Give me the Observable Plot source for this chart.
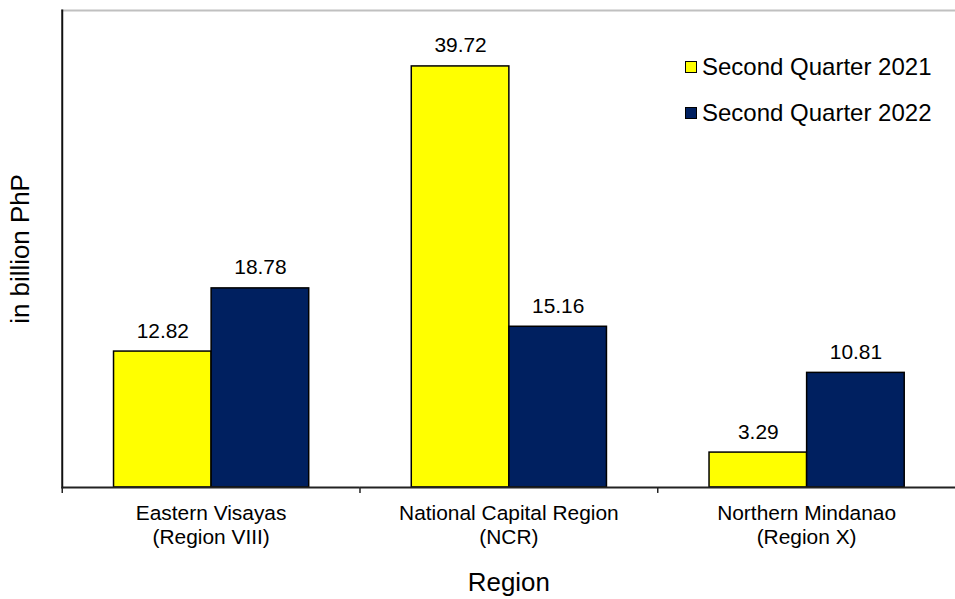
<!DOCTYPE html>
<html>
<head>
<meta charset="utf-8">
<script src="https://cdn.jsdelivr.net/npm/d3@7"></script>
<script src="https://cdn.jsdelivr.net/npm/@observablehq/plot@0.6"></script>
<style>
  html, body { margin: 0; padding: 0; background: #fff; overflow: hidden; }
  #wrap { position: relative; width: 955px; height: 599px; overflow: hidden; font-family: "Liberation Sans", Arial, sans-serif; }
  .legend { position: absolute; left: 685px; top: 51px; }
  .legend .item { display: flex; align-items: center; height: 32px; margin-bottom: 14px; font-size: 24px; color: #000; white-space: nowrap; }
  .legend .swatch { width: 10px; height: 10px; border: 1.5px solid #000; margin-right: 5px; }
</style>
</head>
<body>
<div id="wrap"></div>
<script>
// Regions on the x axis (display text uses a line break)
const regions = ["Eastern Visayas", "National Capital Region", "Northern Mindanao"];
const regionLabels = ["Eastern Visayas\n(Region VIII)", "National Capital Region\n(NCR)", "Northern Mindanao\n(Region X)"];
// Series
const series = ["Second Quarter 2021", "Second Quarter 2022"];
const seriesColors = ["#ffff00", "#002060"];
// Values in billion PhP, one per region
const q2021 = [12.82, 39.72, 3.29];
const q2022 = [18.78, 15.16, 10.81];

const rows = regions.flatMap((r, i) => [
  {region: r, series: series[0], value: q2021[i]},
  {region: r, series: series[1], value: q2022[i]}
]);

const W = 959, marginLeft = 62, marginRight = 0;
const step = (W - marginLeft - marginRight) / regions.length;

const chart = Plot.plot({
  width: W,
  height: 599,
  marginLeft,
  marginRight,
  marginTop: 10,
  marginBottom: 110,
  style: {fontFamily: "'Liberation Sans', Arial, sans-serif", fontSize: "21px", color: "#000", background: "#fff"},
  fx: {domain: regions, padding: 0},
  x: {domain: series, paddingInner: 0, paddingOuter: 0.525, axis: null},
  y: {domain: [0, 45], axis: null},
  color: {domain: series, range: seriesColors},
  marks: [
    // plot-area top border
    Plot.frame({anchor: "top", facet: "super", stroke: "#c0c0c0", strokeWidth: 2}),
    Plot.barY(rows, {fx: "region", x: "series", y: "value", fill: "series", stroke: "#000", strokeWidth: 1.5}),
    Plot.text(rows, {fx: "region", x: "series", y: "value", text: d => d.value.toFixed(2), lineAnchor: "bottom", dy: -14, fontSize: 21, fill: "#000"}),
    // baseline and vertical axis line
    Plot.ruleY([0], {stroke: "#222", strokeWidth: 2}),
    Plot.frame({anchor: "left", facet: "super", stroke: "#111", strokeWidth: 2}),
    // category labels under each group
    Plot.axisFx({anchor: "bottom", tickSize: 0, tickPadding: 16, fontSize: 21, lineHeight: 1.15,
      tickFormat: d => regionLabels[regions.indexOf(d)], label: null}),
    // tick marks at the group boundaries
    Plot.axisFx({anchor: "bottom", tickSize: 6, tickFormat: () => "", dx: -step / 2, stroke: "#222", strokeWidth: 1.5, label: null}),
    // axis titles
    Plot.axisFx({anchor: "bottom", ticks: [], label: "Region", labelAnchor: "center", labelOffset: 104, fontSize: 26}),
    Plot.axisY({anchor: "left", ticks: [], tickSize: 0, label: "in billion PhP", labelAnchor: "center", labelArrow: "none", labelOffset: 52, fontSize: 26})
  ]
});

const wrap = document.getElementById("wrap");
wrap.appendChild(chart);

// legend drawn over the plot area
const legend = document.createElement("div");
legend.className = "legend";
series.forEach((s, i) => {
  const item = document.createElement("div");
  item.className = "item";
  const sw = document.createElement("span");
  sw.className = "swatch";
  sw.style.background = seriesColors[i];
  const label = document.createElement("span");
  label.textContent = s;
  item.appendChild(sw);
  item.appendChild(label);
  legend.appendChild(item);
});
wrap.appendChild(legend);
</script>
</body>
</html>
